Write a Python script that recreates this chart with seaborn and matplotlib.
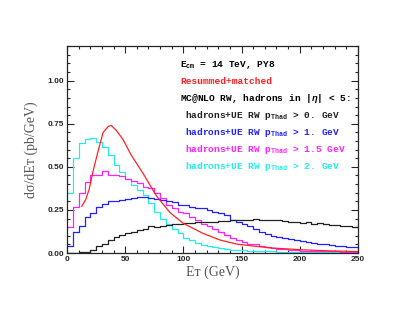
import seaborn as sns
import matplotlib.pyplot as plt
import matplotlib.ticker as mticker
import pandas as pd
import numpy as np

# bin edges in E_T (GeV), 5 GeV bins
edges = np.arange(0, 255, 5)
centers = edges[:-1] + 2.5

had_pt0 = [0.0, 0.0, 0.005, 0.005, 0.02, 0.04, 0.055, 0.075, 0.095, 0.105,
           0.115, 0.125, 0.135, 0.14, 0.155, 0.15, 0.16, 0.165, 0.168, 0.17,
           0.172, 0.175, 0.178, 0.178, 0.18, 0.183, 0.185, 0.188, 0.19, 0.19,
           0.19, 0.192, 0.195, 0.193, 0.19, 0.19, 0.19, 0.185, 0.18, 0.178,
           0.175, 0.18, 0.17, 0.172, 0.168, 0.165, 0.162, 0.16, 0.155, 0.15]
had_pt1 = [0.04, 0.12, 0.16, 0.21, 0.235, 0.265, 0.285, 0.30, 0.305, 0.31,
           0.315, 0.32, 0.324, 0.324, 0.32, 0.315, 0.31, 0.30, 0.295, 0.28,
           0.28, 0.27, 0.26, 0.26, 0.25, 0.24, 0.23, 0.22, 0.19, 0.18,
           0.17, 0.155, 0.14, 0.125, 0.11, 0.10, 0.095, 0.088, 0.08, 0.075,
           0.07, 0.065, 0.06, 0.055, 0.05, 0.047, 0.044, 0.04, 0.038, 0.035]
had_pt15 = [0.153, 0.266, 0.35, 0.41, 0.45, 0.45, 0.475, 0.455, 0.45, 0.445,
            0.43, 0.42, 0.405, 0.385, 0.375, 0.35, 0.32, 0.28, 0.26, 0.24,
            0.23, 0.21, 0.19, 0.17, 0.155, 0.14, 0.125, 0.105, 0.09, 0.075,
            0.065, 0.055, 0.05, 0.042, 0.035, 0.03, 0.026, 0.022, 0.02, 0.017,
            0.015, 0.014, 0.013, 0.012, 0.011, 0.01, 0.01, 0.009, 0.009, 0.008]
had_pt2 = [0.35, 0.55, 0.64, 0.66, 0.67, 0.645, 0.615, 0.57, 0.51, 0.47,
           0.43, 0.395, 0.366, 0.337, 0.29, 0.24, 0.20, 0.17, 0.14, 0.115,
           0.09, 0.075, 0.06, 0.048, 0.04, 0.034, 0.028, 0.024, 0.02, 0.018,
           0.016, 0.014, 0.013, 0.012, 0.011, 0.01, 0.009, 0.008, 0.008, 0.007,
           0.007, 0.006, 0.006, 0.006, 0.005, 0.005, 0.005, 0.005, 0.004, 0.004]

res_et = [12.5, 16, 19, 22.5, 27, 31, 35.5, 38, 42.5, 48, 55, 65.5, 77, 88.5,
          100, 117, 131.5, 146, 175, 200, 225, 250]
res_val = [0.27, 0.31, 0.37, 0.48, 0.60, 0.70, 0.735, 0.74, 0.71, 0.66, 0.57,
           0.46, 0.33, 0.235, 0.172, 0.114, 0.076, 0.052, 0.03, 0.02, 0.013, 0.009]

samples = ["pt0", "pt1", "pt15", "pt2"]
colors = {"pt0": "#222222", "pt1": "#2222ff", "pt15": "#ff22ff", "pt2": "#22eeee"}

hist = pd.DataFrame({
    "et": np.tile(centers, 4),
    "w": had_pt0 + had_pt1 + had_pt15 + had_pt2,
    "sample": np.repeat(samples, len(centers)),
})

sns.set_style("ticks")
plt.rcParams["font.family"] = ["Liberation Sans", "DejaVu Sans"]
plt.rcParams["mathtext.fontset"] = "custom"
plt.rcParams["mathtext.rm"] = "Liberation Mono:bold"
plt.rcParams["mathtext.it"] = "Liberation Mono:italic:bold"

fig = plt.figure(figsize=(4.09, 3.16), dpi=100)
ax = fig.add_axes([0.164, 0.199, 0.711, 0.655])

sns.histplot(data=hist, x="et", weights="w", hue="sample",
             binwidth=5, binrange=(0, 250),
             element="step", fill=False, palette=colors, legend=False,
             linewidth=0.9, ax=ax)
sns.lineplot(x=res_et, y=res_val, color="#ff2222", linewidth=0.9, ax=ax)

ax.set_xlim(0, 250)
ax.set_ylim(0, 1.2)
ax.xaxis.set_major_locator(mticker.MultipleLocator(50))
ax.xaxis.set_minor_locator(mticker.MultipleLocator(10))
ax.yaxis.set_major_locator(mticker.FixedLocator([0, 0.25, 0.5, 0.75, 1.0]))
ax.yaxis.set_minor_locator(mticker.MultipleLocator(0.05))
ax.yaxis.set_major_formatter(mticker.FormatStrFormatter("%.2f"))
ax.tick_params(which="both", direction="in", top=True, right=True,
               labelsize=6, width=0.8, pad=2)
ax.tick_params(which="major", length=5)
ax.tick_params(which="minor", length=2.5)
for lab in ax.get_xticklabels() + ax.get_yticklabels():
    lab.set_fontweight("bold")
for s in ax.spines.values():
    s.set_linewidth(0.9)

serif = ["Liberation Serif", "DejaVu Serif"]
ax.set_xlabel("E\u1d1b (GeV)", family=serif, fontsize=10, color="#555555", labelpad=2)
ax.set_ylabel("d\u03c3/dE\u1d1b (pb/GeV)", family=serif, fontsize=10, color="#555555", labelpad=7)

mono = ["Liberation Mono", "DejaVu Sans Mono"]
tk = dict(family=mono, fontsize=6.8, fontweight="bold", va="center", ha="left")
ax.text(97, 1.093, r"E$_{\rm cm}$ = 14 TeV, PY8", color="black", **tk)
ax.text(97, 0.994, "Resummed+matched", color="#ff2222", **tk)
ax.text(97, 0.895, r"MC@NLO RW, hadrons in $|\eta|$ < 5:", color="black", **tk)
lines = ["0.", "1.", "1.5", "2."]
ys = [0.797, 0.698, 0.599, 0.5]
for smp, cut, yy in zip(samples, lines, ys):
    ax.text(101, yy, r"hadrons+UE RW p$_{\rm Thad}$ > " + cut + " GeV",
            color=colors[smp], **tk)

fig.savefig("out.png", dpi=100)
